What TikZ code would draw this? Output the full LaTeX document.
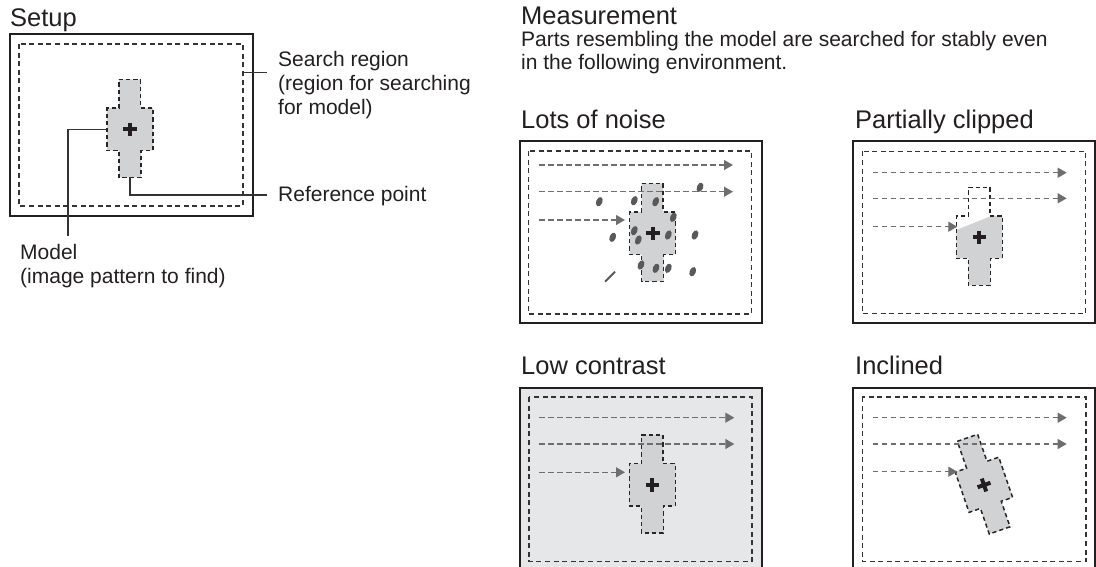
\documentclass[tikz,border=0pt]{standalone}
\usepackage{fontspec}
\setmainfont{Liberation Sans}
\usetikzlibrary{arrows.meta}
\definecolor{txt}{HTML}{231F20}
\definecolor{frm}{HTML}{231F20}
\definecolor{dsh}{HTML}{333333}
\definecolor{arr}{HTML}{6D6E70}
\definecolor{mfill}{HTML}{D1D2D4}
\definecolor{lowbg}{HTML}{E6E7E8}
\definecolor{noisec}{HTML}{58595B}
\tikzset{
  frame/.style={draw=frm, line width=2pt},
  region/.style={draw=dsh, line width=1.2pt, dash pattern=on 5pt off 3.6pt},
  modelout/.style={draw=black!85, line width=1.5pt, dash pattern=on 4.2pt off 3pt},
  scanarrow/.style={draw=arr, line width=1.3pt, dash pattern=on 5.5pt off 3.5pt, -{Triangle[length=9pt,width=10pt]}},
  leader/.style={draw=dsh, line width=1.2pt},
  head/.style={font=\fontsize{25.5}{30}\selectfont, text=txt, inner sep=0pt, anchor=base west},
  body/.style={font=\fontsize{21}{24}\selectfont, text=txt, inner sep=0pt, anchor=base west, align=left},
  crossmark/.style={line width=4pt, draw=txt},
  blob/.style={fill=noisec, draw=none},
}
\newcommand\mdlpath{(-11,-50) -- (10.5,-50) -- (10.5,-21.5) -- (23,-21.5) -- (23,21) -- (11,21) -- (11,48) -- (-11,48) -- (-11,21) -- (-23,21) -- (-23,-21.5) -- (-11,-21.5) -- cycle}
\newcommand\mdlcross{\draw[crossmark] (-6.8,0) -- (6.8,0) (0,-6.8) -- (0,6.8);}
\newcommand\scanrow[4]{\coordinate (#1s) at (#3,#2); \coordinate (#1e) at (#4,#2); \draw[scanarrow] (#1s) -- (#1e);}
\newcommand\nblob[2]{\fill[blob, rotate around={-22:(#1,#2)}] (#1,#2) ellipse [x radius=3.1, y radius=4.9];}
\begin{document}
\begin{tikzpicture}[x=1pt, y=-1pt]
\useasboundingbox (0,0) rectangle (1096,566);

% ---------------- Setup ----------------
\node[head] (setup) at (10,26) {Setup};
\draw[frame] (10,34) rectangle (253,216);
\draw[region] (19,44) rectangle (243,206);
\begin{scope}[shift={(130,129.3)}]
  \fill[mfill] \mdlpath;
  \draw[modelout] \mdlpath;
  \mdlcross
\end{scope}
\coordinate (srpt) at (243,72.7);
\coordinate (srend) at (267,72.7);
\coordinate (rppt) at (130,177.3);
\coordinate (rpend) at (267,195);
\coordinate (mpt) at (107,129.3);
\coordinate (mend) at (68,236);
\draw[leader] (srpt) -- (srend);
\draw[leader] (rppt) |- (rpend);
\draw[leader] (mpt) -| (mend);
% base anchor of a multi-line node is the baseline of its last line
\node[body] (srlab) at (278,114) {Search region\\(region for searching\\for model)};
\node[body] (rplab) at (278,201) {Reference point};
\node[body] (mlab) at (20,283.5) {Model\\(image pattern to find)};

% ---------------- Measurement ----------------
\node[head] (meas) at (521,24.5) {Measurement};
\node[body, font=\fontsize{21}{23.5}\selectfont] (desc) at (521,69.5) {Parts resembling the model are searched for stably even\\in the following environment.};

% Lots of noise
\node[head] (t1) at (521,128.3) {Lots of noise};
\draw[frame] (520,141) rectangle (762,323);
\draw[region] (528.5,151) rectangle (751.5,314);
\begin{scope}[shift={(652.7,233.3)}]
  \fill[mfill] \mdlpath;
  \draw[modelout] \mdlpath;
  \mdlcross
\end{scope}
\scanrow{na}{165}{539}{733}
\scanrow{nb}{191.7}{539}{733}
\scanrow{nc}{220}{539}{625}
\nblob{599.3}{201.7}
\nblob{634.3}{200.7}
\nblob{655.7}{201.7}
\nblob{700}{187.3}
\nblob{673.3}{217.3}
\nblob{634.3}{230.7}
\nblob{638.3}{240}
\nblob{668.3}{235}
\nblob{612.7}{237.3}
\nblob{695}{235}
\nblob{641}{265}
\nblob{656}{268.3}
\nblob{668.3}{268.3}
\nblob{692.7}{271.7}
\draw[noisec, line width=2pt] (605,281.7) -- (615,271.7);

% Partially clipped
\node[head] (t2) at (855,128.3) {Partially clipped};
\draw[frame] (853,141) rectangle (1095,323);
\draw[region] (862.3,151.3) rectangle (1085.7,313.7);
\begin{scope}[shift={(979.3,237.3)}]
  \fill[mfill] (-23,-7.3) -- (12.4,-21.5) -- (23,-21.5) -- (23,21) -- (11,21) -- (11,48) -- (-11,48) -- (-11,21) -- (-23,21) -- cycle;
  \draw[modelout] \mdlpath;
  \mdlcross
\end{scope}
\scanrow{pa}{172.7}{872.7}{1066.7}
\scanrow{pb}{198.3}{872.7}{1066.7}
\scanrow{pc}{226.7}{872.7}{957.3}

% Low contrast
\node[head] (t3) at (521,374) {Low contrast};
\fill[lowbg] (520,388) rectangle (762,570);
\draw[frame] (520,388) rectangle (762,570);
\draw[region] (529,397) rectangle (752,561.7);
\begin{scope}[shift={(652.3,485)}]
  \fill[mfill] \mdlpath;
  \draw[modelout] \mdlpath;
  \mdlcross
\end{scope}
\scanrow{la}{417.7}{539.3}{734.3}
\scanrow{lb}{444}{539.3}{734.3}
\scanrow{lc}{472.3}{539.3}{625}

% Inclined
\node[head] (t4) at (855,374) {Inclined};
\draw[frame] (852.5,388) rectangle (1095,570);
\draw[region] (862.3,397) rectangle (1086,561.7);
\begin{scope}[shift={(984,485)}, rotate=19]
  \fill[mfill] \mdlpath;
  \draw[modelout] \mdlpath;
  \mdlcross
\end{scope}
\scanrow{ia}{417.7}{872.7}{1066.7}
\scanrow{ib}{444}{872.7}{1066.7}
\scanrow{ic}{471.7}{872.7}{957.3}
\end{tikzpicture}
\end{document}
